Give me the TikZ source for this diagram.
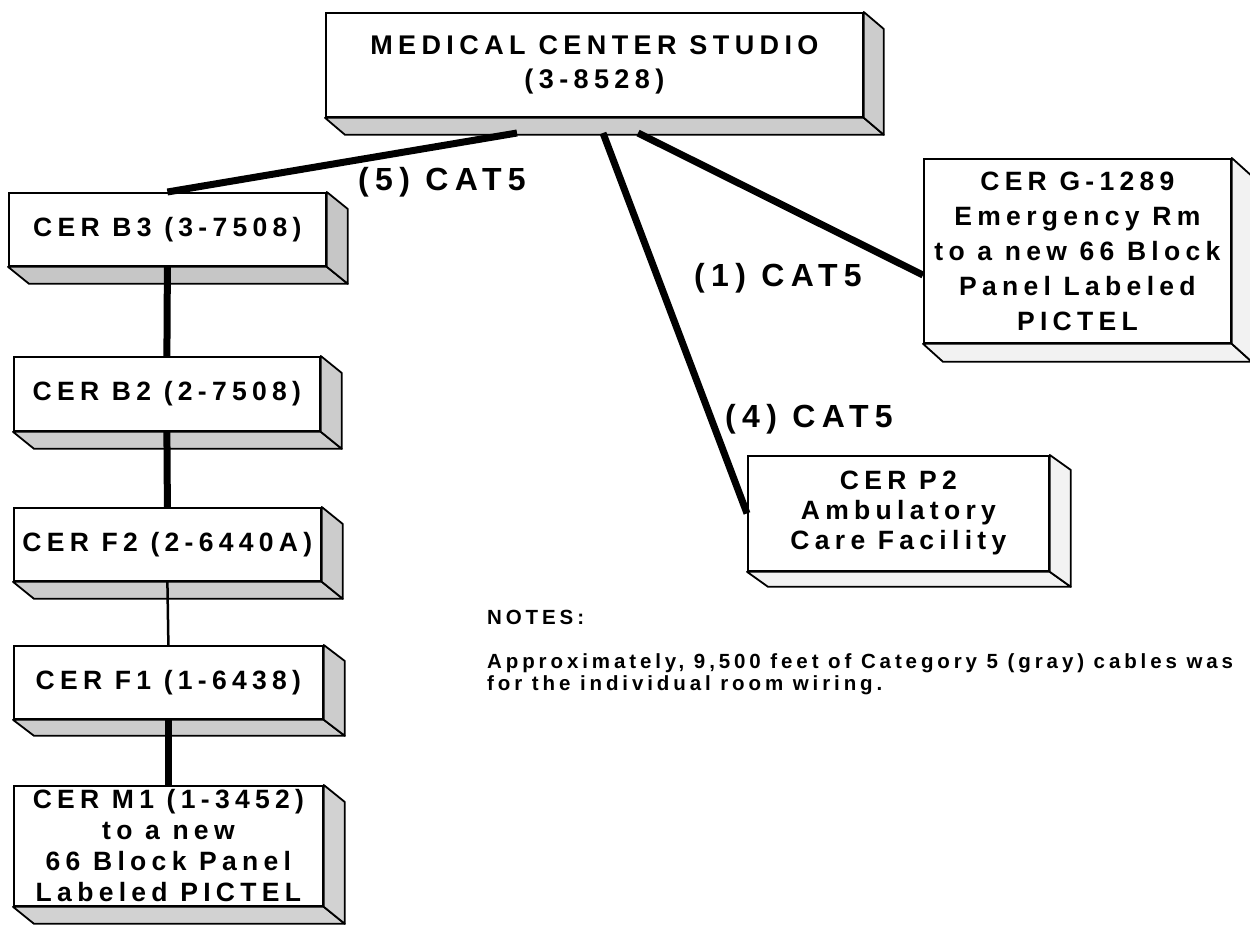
\documentclass[tikz,border=0pt]{standalone}
\usepackage{fontspec}
\setmainfont{Liberation Sans}
\newfontfamily\boxf{Liberation Sans}[LetterSpace=20]
\newfontfamily\lblf{Liberation Sans}[LetterSpace=20]
\newfontfamily\notef{Liberation Sans}[LetterSpace=19]
\usetikzlibrary{calc}
\newcommand\boxfaces[4]{%
  \filldraw[face, fill=#2] (#1.south west) -- (#1.south east) -- ($(#1.south east)+(#3,#4)$) -- ($(#1.south west)+(#3,#4)$) -- cycle;
  \filldraw[face, fill=#2] (#1.north east) -- ($(#1.north east)+(#3,#4)$) -- ($(#1.south east)+(#3,#4)$) -- (#1.south east) -- cycle;}
\begin{document}
\begin{tikzpicture}[x=1pt,y=-1pt,
  box/.style={draw, line width=1.8pt, fill=white, anchor=north west, inner sep=0pt, align=center,
    font=\boxf\bfseries\fontsize{26.5}{32}\selectfont},
  face/.style={line width=1.8pt, line join=round},
  cable/.style={line width=7pt},
  thincable/.style={line width=2.5pt},
  lbl/.style={font=\lblf\bfseries\fontsize{32}{36}\selectfont, inner sep=0pt},
  notes/.style={font=\notef\bfseries\fontsize{20.5}{22}\selectfont, inner sep=0pt, anchor=north west, align=left}]
\useasboundingbox (0,0) rectangle (1250,934);
% front faces
\node[box, minimum width=537pt, minimum height=104pt, font=\boxf\bfseries\fontsize{27}{34}\selectfont] (mcs) at (325,12) {MEDICAL CENTER STUDIO\\(3-8528)};
\node[box, minimum width=317pt, minimum height=73pt] (b3) at (8,192) {CER B3 (3-7508)};
\node[box, minimum width=306pt, minimum height=74pt] (b2) at (13,356) {CER B2 (2-7508)};
\node[box, minimum width=307pt, minimum height=73pt] (f2) at (13,507) {CER F2 (2-6440A)};
\node[box, minimum width=309pt, minimum height=73pt] (f1) at (13,645) {CER F1 (1-6438)};
\node[box, minimum width=309pt, minimum height=120pt, font=\boxf\bfseries\fontsize{26.5}{31}\selectfont] (m1) at (13,785) {CER M1 (1-3452)\\to a new\\66 Block Panel\\Labeled PICTEL};
\node[box, minimum width=307pt, minimum height=184pt, font=\boxf\bfseries\fontsize{26.5}{35}\selectfont] (g) at (923,158) {CER G-1289\\Emergency Rm\\to a new 66 Block\\Panel Labeled\\PICTEL};
\node[box, minimum width=301pt, minimum height=115pt, font=\boxf\bfseries\fontsize{26.5}{30}\selectfont] (p2) at (747,455) {CER P2\\Ambulatory\\Care Facility};
% side and bottom faces
\boxfaces{mcs}{gray!40}{20}{17}
\boxfaces{b3}{gray!45}{21}{17}
\boxfaces{b2}{gray!40}{21}{17}
\boxfaces{f2}{gray!40}{21}{17}
\boxfaces{f1}{gray!40}{21}{16}
\boxfaces{m1}{gray!35}{21}{17}
\boxfaces{g}{gray!10}{20}{18}
\boxfaces{p2}{gray!10}{21}{15}
% connector ends on the studio's lower face
\coordinate (m5) at (517,133);
\coordinate (m4) at (603,133);
\coordinate (m1c) at (638,133);
\coordinate (gin) at ($(g.north west)!0.63!(g.south west)$);
% connectors
\draw[cable] (m5) -- (b3.north);
\draw[cable] (m4) -- (p2.west);
\draw[cable] (m1c) -- (gin);
\draw[cable] (b3.south) -- (b2.north);
\draw[cable] (b2.south) -- (f2.north);
\draw[thincable] (f2.south) -- (f1.north);
\draw[cable] (f1.south) -- (m1.north);
% labels
\node[lbl] (l5) at (442,182) {(5) CAT5};
\node[lbl] (l1) at (778,278) {(1) CAT5};
\node[lbl] (l4) at (809,419) {(4) CAT5};
% notes
\node[notes] (nh) at (487,610) {NOTES:};
\node[notes] (nt) at (487,653) {Approximately, 9,500 feet of Category 5 (gray) cables was\\for the individual room wiring.};
\end{tikzpicture}
\end{document}
